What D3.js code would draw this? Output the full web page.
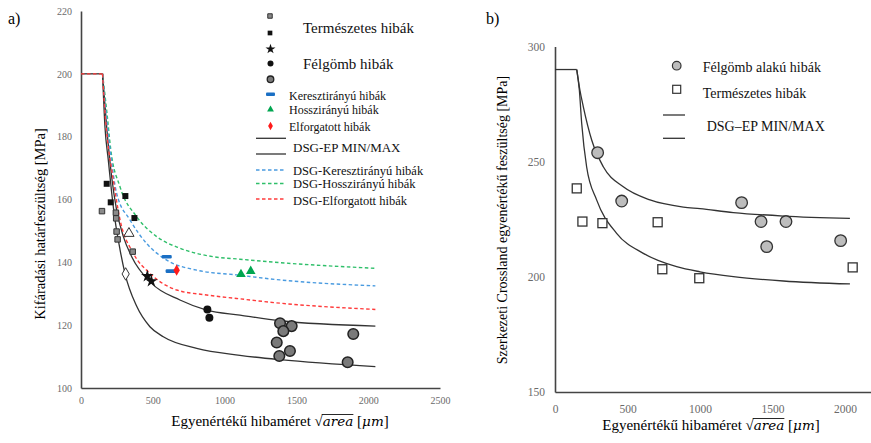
<!DOCTYPE html>
<html>
<head>
<meta charset="utf-8">
<script src="https://cdn.jsdelivr.net/npm/d3@7"></script>
<style>
  body { margin: 0; background: #fff; }
  svg text { font-family: "Liberation Serif", "Times New Roman", serif; }
</style>
</head>
<body>
<script>
// left panel (a): fatigue limit vs defect size
var plateauA = 200;
var minCurveA = [[150,200],[167,183],[190,172.6],[214,162],[237,153.5],[272,144],[306,136.5],[388,126],[480,119.5],[573,116.3],[806,112.6],[1107,110.4],[1386,109],[2050,106.8]];
var maxCurveA = [[150,200],[179,183],[214,167],[248,156.6],[295,148.2],[353,141.8],[492,133.3],[689,128],[875,124.8],[1107,123.2],[1386,121.4],[2050,119.7]];
var redCurveA = [[150,200],[172,185],[195,175],[214,169.4],[272,153.5],[364,142.9],[480,136.5],[666,131.2],[875,129.6],[1084,128.5],[1386,127],[2050,125]];
var blueCurveA = [[150,200],[178,186],[200,177],[248,162],[341,153.5],[457,146],[597,140.7],[806,137.5],[1084,136],[1386,134.4],[2050,132.5]];
var greenCurveA = [[150,200],[182,187],[207,176],[272,164],[388,154.5],[527,148.2],[689,144.5],[921,141.8],[1107,141],[1386,139.9],[2050,138.1]];

var graySquaresA = [[146,156.3],[243,155.8],[245,154],[248,149.8],[255,147.3],[360,143.4]];
var blackSquaresA = [[179,165],[207,159.1],[309,161.1],[372,154.1]];
var starsA = [[462,135.6],[490,134]];
var blackCirclesA = [[880,125],[894,122.4]];
var grayCirclesA = [[1386,120.6],[1467,119.7],[1409,118.1],[1363,114.5],[1455,111.8],[1381,110.2],[1896,117.2],[1857,108.2]];
var openTriangleA = [[334,149.2]];
var openDiamondA = [[311,136.3]];
var blueDashesA = [[597,141.8],[624,137.2]];
var greenTrianglesA = [[1114,136.2],[1182,137.2]];
var redDiamondsA = [[666,137.5]];

var xTicksA = [0,500,1000,1500,2000,2500];
var yTicksA = [100,120,140,160,180,200,220];

// right panel (b): Crossland equivalent stress
var plateauB = 290;
var maxCurveB = [[150,290],[172,281],[195,273.9],[253,259.4],[333,247.8],[471,239.1],[655,233.4],[885,230.3],[1000,229.6],[1230,227.9],[1575,226.4],[2034,225.4]];
var minCurveB = [[150,290],[168,281],[184,266.7],[218,247.8],[287,233.4],[425,218.9],[609,210.2],[839,204.4],[1000,202.2],[1230,200.1],[1575,198.2],[2034,196.9]];
var circlesB = [[294,253.9],[460,232.9],[1287,232.2],[1421,224],[1593,224],[1460,213.1],[1970,215.7]];
var squaresB = [[150,238.4],[189,224],[327,223.3],[708,223.7],[740,203.3],[995,199.4],[2053,204.1]];
var xTicksB = [0,500,1000,1500,2000];
var yTicksB = [150,200,250,300];

var W = 871, H = 443;
var serif = '"Liberation Serif", "Times New Roman", serif';
var svg = d3.select('body').append('svg').attr('width', W).attr('height', H)
  .attr('font-family', serif);

var axisColor = '#444', tickColor = '#6a6a6a', curveColor = '#333';

// ---------- panel a ----------
var xA = d3.scaleLinear().domain([0, 2500]).range([81, 440]);
var yA = d3.scaleLinear().domain([100, 220]).range([388, 11]);

function styleAxis(g, size) {
  g.attr('font-family', serif);
  g.select('.domain').attr('stroke', axisColor).attr('stroke-width', 1.6);
  g.selectAll('.tick line').remove();
  g.selectAll('.tick text').attr('fill', tickColor)
    .style('font-family', serif).style('font-size', size + 'px');
}

svg.append('g').attr('transform', 'translate(0,388)')
  .call(d3.axisBottom(xA).tickValues(xTicksA).tickFormat(d3.format('d')).tickSize(0).tickPadding(9).tickSizeOuter(0))
  .call(g => styleAxis(g, 10));
svg.append('g').attr('transform', 'translate(81,0)')
  .call(d3.axisLeft(yA).tickValues(yTicksA).tickFormat(d3.format('d')).tickSize(0).tickPadding(9).tickSizeOuter(0))
  .call(g => styleAxis(g, 10));

var lineA = d3.line().x(d => xA(d[0])).y(d => yA(d[1])).curve(d3.curveMonotoneX);
var flatA = d3.line().x(d => xA(d[0])).y(d => yA(d[1]));

svg.append('path').attr('d', flatA([[0, plateauA], [150, plateauA]]))
  .attr('fill', 'none').attr('stroke', curveColor).attr('stroke-width', 1.3);
[minCurveA, maxCurveA].forEach(c => {
  svg.append('path').attr('d', lineA(c)).attr('fill', 'none')
    .attr('stroke', curveColor).attr('stroke-width', 1.3);
});

var dashed = [
  { data: greenCurveA, color: '#2fbf6a' },
  { data: blueCurveA, color: '#4a9be0' },
  { data: redCurveA, color: '#ff3b3b' }
];
dashed.forEach(s => {
  svg.append('path').attr('d', lineA(s.data)).attr('fill', 'none')
    .attr('stroke', s.color).attr('stroke-width', 1.4).attr('stroke-dasharray', '3.5,2.5');
});
svg.append('path').attr('d', flatA([[0, plateauA], [150, plateauA]]))
  .attr('fill', 'none').attr('stroke', '#ff3b3b').attr('stroke-width', 1.2).attr('stroke-dasharray', '3.5,2.5');

function symbolAt(g, type, size, x, y, fill, stroke, sw) {
  g.append('path').attr('d', d3.symbol().type(type).size(size)())
    .attr('transform', 'translate(' + x + ',' + y + ')')
    .attr('fill', fill).attr('stroke', stroke || 'none').attr('stroke-width', sw || 0);
}

var marks = svg.append('g');
graySquaresA.forEach(d => symbolAt(marks, d3.symbolSquare, 30, xA(d[0]), yA(d[1]), '#8a8a8a', '#333', 1));
blackSquaresA.forEach(d => symbolAt(marks, d3.symbolSquare, 36, xA(d[0]), yA(d[1]), '#111'));
starsA.forEach(d => symbolAt(marks, d3.symbolStar, 18, xA(d[0]), yA(d[1]), '#111', '#111', 1.6));
blackCirclesA.forEach(d => marks.append('circle').attr('cx', xA(d[0])).attr('cy', yA(d[1])).attr('r', 4).attr('fill', '#111'));
grayCirclesA.forEach(d => marks.append('circle').attr('cx', xA(d[0])).attr('cy', yA(d[1])).attr('r', 5.3)
  .attr('fill', '#7a7a7a').attr('stroke', '#222').attr('stroke-width', 1.5));
openTriangleA.forEach(d => symbolAt(marks, d3.symbolTriangle, 45, xA(d[0]), yA(d[1]), '#fff', '#333', 1));
openDiamondA.forEach(d => symbolAt(marks, d3.symbolDiamond, 45, xA(d[0]), yA(d[1]), '#fff', '#333', 1));
blueDashesA.forEach(d => marks.append('rect').attr('x', xA(d[0]) - 5).attr('y', yA(d[1]) - 1.8)
  .attr('width', 10).attr('height', 3.6).attr('rx', 1.2).attr('fill', '#1a6fc4'));
greenTrianglesA.forEach(d => symbolAt(marks, d3.symbolTriangle, 40, xA(d[0]), yA(d[1]), '#00a650'));
redDiamondsA.forEach(d => symbolAt(marks, d3.symbolDiamond, 36, xA(d[0]), yA(d[1]), '#ff1a1a'));

// legend a
var lg = svg.append('g');
symbolAt(lg, d3.symbolSquare, 20, 270, 16, '#8a8a8a', '#333', 1);
symbolAt(lg, d3.symbolSquare, 22, 270, 33, '#111');
symbolAt(lg, d3.symbolStar, 10, 270.5, 49, '#111', '#111', 1.4);
lg.append('circle').attr('cx', 270.5).attr('cy', 63.5).attr('r', 3).attr('fill', '#111');
lg.append('circle').attr('cx', 270.5).attr('cy', 79.3).attr('r', 3.3).attr('fill', '#7a7a7a').attr('stroke', '#222').attr('stroke-width', 1.3);
lg.append('rect').attr('x', 266).attr('y', 92.6).attr('width', 9).attr('height', 3.4).attr('rx', 1).attr('fill', '#1a6fc4');
symbolAt(lg, d3.symbolTriangle, 20, 270.5, 109.5, '#00a650');
symbolAt(lg, d3.symbolDiamond, 20, 270.5, 126, '#ff1a1a');
lg.append('line').attr('x1', 256).attr('x2', 286).attr('y1', 138.3).attr('y2', 138.3).attr('stroke', curveColor).attr('stroke-width', 1.3);
lg.append('line').attr('x1', 256).attr('x2', 286).attr('y1', 154).attr('y2', 154).attr('stroke', curveColor).attr('stroke-width', 1.3);
[['#4a9be0', 170], ['#2fbf6a', 183.5], ['#ff3b3b', 199]].forEach(p => {
  lg.append('line').attr('x1', 256).attr('x2', 286).attr('y1', p[1]).attr('y2', p[1])
    .attr('stroke', p[0]).attr('stroke-width', 1.4).attr('stroke-dasharray', '3.5,2.5');
});
var legendTextA = [
  ['Természetes hibák', 303, 33, 15],
  ['Félgömb hibák', 303, 69, 15],
  ['Keresztirányú hibák', 289, 99.5, 12],
  ['Hosszirányú hibák', 289, 114, 12],
  ['Elforgatott hibák', 289, 130.5, 12],
  ['DSG-EP MIN/MAX', 293, 152, 13],
  ['DSG-Keresztirányú hibák', 293, 174.5, 12.5],
  ['DSG-Hosszirányú hibák', 293, 188, 12.5],
  ['DSG-Elforgatott hibák', 293, 204.5, 12.5]
];
legendTextA.forEach(t => lg.append('text').attr('x', t[1]).attr('y', t[2])
  .style('font-size', t[3] + 'px').attr('fill', '#111').text(t[0]));

svg.append('text').attr('x', 8).attr('y', 24).style('font-size', '16px').text('a)');
svg.append('text').attr('transform', 'translate(45,224) rotate(-90)').attr('text-anchor', 'middle')
  .style('font-size', '14.5px').text('Kifáradási határfeszültség [MPa]');

function xTitle(cx, y) {
  var t = svg.append('text').attr('x', cx).attr('y', y).attr('text-anchor', 'middle').style('font-size', '15px');
  t.append('tspan').text('Egyenértékű hibaméret ');
  t.append('tspan').text('√');
  var a = t.append('tspan').style('font-style', 'italic').style('font-family', '"DejaVu Serif", serif')
    .style('font-size', '13.5px').text('area');
  t.append('tspan').text(' [');
  t.append('tspan').style('font-style', 'italic').style('font-family', '"DejaVu Serif", serif')
    .style('font-size', '13.5px').text('μm');
  t.append('tspan').text(']');
  var node = a.node();
  var x0 = node.getStartPositionOfChar(0).x;
  var len = node.getComputedTextLength();
  svg.append('line').attr('x1', x0 - 1).attr('x2', x0 + len).attr('y1', y - 11.5).attr('y2', y - 11.5)
    .attr('stroke', '#111').attr('stroke-width', 0.9);
}
xTitle(280, 426);

// ---------- panel b ----------
var xB = d3.scaleLinear().domain([0, 2200]).range([555, 874]);
var yB = d3.scaleLinear().domain([150, 300]).range([392, 46.5]);

svg.append('g').attr('transform', 'translate(0,392)')
  .call(d3.axisBottom(xB).tickValues(xTicksB).tickFormat(d3.format('d')).tickSize(0).tickPadding(13).tickSizeOuter(0))
  .call(g => styleAxis(g, 11.5));
svg.append('g').attr('transform', 'translate(555,0)')
  .call(d3.axisLeft(yB).tickValues(yTicksB).tickFormat(d3.format('d')).tickSize(0).tickPadding(10).tickSizeOuter(0))
  .call(g => styleAxis(g, 11.5));

var lineB = d3.line().x(d => xB(d[0])).y(d => yB(d[1])).curve(d3.curveMonotoneX);
svg.append('path').attr('d', d3.line().x(d => xB(d[0])).y(d => yB(d[1]))([[0, plateauB], [150, plateauB]]))
  .attr('fill', 'none').attr('stroke', curveColor).attr('stroke-width', 1.3);
[maxCurveB, minCurveB].forEach(c => {
  svg.append('path').attr('d', lineB(c)).attr('fill', 'none')
    .attr('stroke', curveColor).attr('stroke-width', 1.3);
});

var mb = svg.append('g');
squaresB.forEach(d => mb.append('rect').attr('x', xB(d[0]) - 4.5).attr('y', yB(d[1]) - 4.5)
  .attr('width', 9).attr('height', 9).attr('fill', '#fff').attr('stroke', '#333').attr('stroke-width', 1.3));
circlesB.forEach(d => mb.append('circle').attr('cx', xB(d[0])).attr('cy', yB(d[1])).attr('r', 5.8)
  .attr('fill', '#bdbdbd').attr('stroke', '#333').attr('stroke-width', 1.3));

// legend b
var lb = svg.append('g');
lb.append('circle').attr('cx', 676.7).attr('cy', 65.7).attr('r', 4.3).attr('fill', '#bdbdbd').attr('stroke', '#333').attr('stroke-width', 1.2);
lb.append('rect').attr('x', 672.7).attr('y', 85.3).attr('width', 8).attr('height', 8).attr('fill', '#fff').attr('stroke', '#333').attr('stroke-width', 1.2);
lb.append('line').attr('x1', 663).attr('x2', 685).attr('y1', 115).attr('y2', 115).attr('stroke', curveColor).attr('stroke-width', 1.3);
lb.append('line').attr('x1', 663).attr('x2', 685).attr('y1', 138.3).attr('y2', 138.3).attr('stroke', curveColor).attr('stroke-width', 1.3);
[['Félgömb alakú hibák', 702.7, 71.5], ['Természetes hibák', 702.7, 97.5], ['DSG–EP MIN/MAX', 706.7, 130.5]]
  .forEach(t => lb.append('text').attr('x', t[1]).attr('y', t[2]).style('font-size', '14px').attr('fill', '#111').text(t[0]));

svg.append('text').attr('x', 486).attr('y', 24).style('font-size', '16px').text('b)');
svg.append('text').attr('transform', 'translate(507,220) rotate(-90)').attr('text-anchor', 'middle')
  .style('font-size', '14px').text('Szerkezeti Crossland egyenértékű feszültség [MPa]');
xTitle(711, 430);
</script>
</body>
</html>
